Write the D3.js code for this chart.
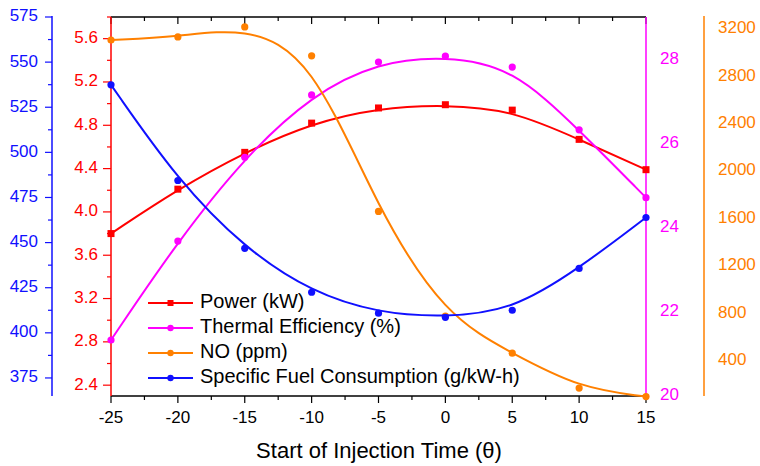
<!DOCTYPE html>
<html><head><meta charset="utf-8">
<script src="https://cdn.jsdelivr.net/npm/d3@7"></script>
<style>body{margin:0;background:#fff}svg{display:block;font-family:Arial,"Liberation Sans",sans-serif}</style>
</head><body><svg id="c" width="760" height="466"></svg>
<script>
const xVals = [-25, -20, -15, -10, -5, 0, 5, 10, 15];
const power = [3.80, 4.21, 4.55, 4.82, 4.96, 4.99, 4.94, 4.67, 4.39];
const thermalEff = [21.33, 23.68, 25.67, 27.15, 27.93, 28.07, 27.81, 26.32, 24.71];
const noPpm = [3106, 3132, 3216, 2972, 1658, 774, 462, 167, 95];
const sfc = [537.4, 484.4, 446.8, 422.5, 410.9, 408.6, 412.5, 435.7, 463.9];
const xTicks = [-25, -20, -15, -10, -5, 0, 5, 10, 15];
const powerTicks = [2.4, 2.8, 3.2, 3.6, 4.0, 4.4, 4.8, 5.2, 5.6];
const effTicks = [20, 22, 24, 26, 28];
const noTicks = [400, 800, 1200, 1600, 2000, 2400, 2800, 3200];
const sfcTicks = [375, 400, 425, 450, 475, 500, 525, 550, 575];

const svg = d3.select("#c");
const L = 111, R = 646, T = 17, B = 396;
const x = d3.scaleLinear().domain([-25, 15]).range([L, R]);
const yP = d3.scaleLinear().domain([2.3, 5.8]).range([B, T]);
const yE = d3.scaleLinear().domain([20, 29]).range([B, T]);
const yN = d3.scaleLinear().domain([100, 3300]).range([B, T]);
const yS = d3.scaleLinear().domain([365, 575]).range([B, T]);

const RED = "#ff0000", MAG = "#ff00ff", ORA = "#ff8000", BLU = "#1010ff";
const TF = 17;

// top axis
svg.append("line").attr("x1", L).attr("x2", R).attr("y1", T).attr("y2", T).attr("stroke", "#000").attr("stroke-width", 1.5);
d3.range(-25, 15.01, 2.5).forEach(v => {
  const major = v % 5 === 0;
  svg.append("line").attr("x1", x(v)).attr("x2", x(v)).attr("y1", T).attr("y2", T + (major ? 7 : 4)).attr("stroke", "#000").attr("stroke-width", 1.2);
});
// bottom axis
svg.append("line").attr("x1", L).attr("x2", R).attr("y1", B).attr("y2", B).attr("stroke", "#000").attr("stroke-width", 1.5);
d3.range(-25, 15.01, 2.5).forEach(v => {
  const major = v % 5 === 0;
  svg.append("line").attr("x1", x(v)).attr("x2", x(v)).attr("y1", B).attr("y2", B + (major ? 7 : 4)).attr("stroke", "#000").attr("stroke-width", 1.2);
});
xTicks.forEach(v => {
  svg.append("text").attr("x", x(v)).attr("y", 419).attr("text-anchor", "middle").attr("dominant-baseline", "middle")
    .attr("font-size", TF).attr("fill", "#000").text(v);
});
svg.append("text").attr("x", 379).attr("y", 452).attr("text-anchor", "middle").attr("dominant-baseline", "middle")
  .attr("font-size", 22).attr("fill", "#000").text("Start of Injection Time (θ)");

// red axis (power)
svg.append("line").attr("x1", L).attr("x2", L).attr("y1", T).attr("y2", B).attr("stroke", RED).attr("stroke-width", 1.5);
d3.range(2.4, 5.81, 0.2).forEach((v, i) => {
  const major = i % 2 === 0;
  svg.append("line").attr("x1", L).attr("x2", L - (major ? 8 : 4)).attr("y1", yP(v)).attr("y2", yP(v)).attr("stroke", RED).attr("stroke-width", 1.2);
});
powerTicks.forEach(v => {
  svg.append("text").attr("x", 98).attr("y", yP(v)).attr("text-anchor", "end").attr("dominant-baseline", "middle")
    .attr("font-size", TF).attr("fill", RED).text(v.toFixed(1));
});

// blue axis (SFC)
const BX = 52;
svg.append("line").attr("x1", BX).attr("x2", BX).attr("y1", T - 1).attr("y2", B).attr("stroke", BLU).attr("stroke-width", 1.5);
d3.range(375, 575.1, 12.5).forEach((v, i) => {
  const major = i % 2 === 0;
  svg.append("line").attr("x1", BX).attr("x2", BX - (major ? 7 : 4)).attr("y1", yS(v)).attr("y2", yS(v)).attr("stroke", BLU).attr("stroke-width", 1.2);
});
sfcTicks.forEach(v => {
  svg.append("text").attr("x", 38).attr("y", yS(v)).attr("text-anchor", "end").attr("dominant-baseline", "middle")
    .attr("font-size", TF).attr("fill", BLU).text(v);
});

// magenta axis (efficiency)
svg.append("line").attr("x1", R).attr("x2", R).attr("y1", T).attr("y2", B).attr("stroke", MAG).attr("stroke-width", 1.5);
effTicks.forEach(v => {
  svg.append("text").attr("x", 660).attr("y", yE(v)).attr("text-anchor", "start").attr("dominant-baseline", "middle")
    .attr("font-size", TF).attr("fill", MAG).text(v);
});

// orange axis (NO)
const OX = 704;
svg.append("line").attr("x1", OX).attr("x2", OX).attr("y1", T - 1).attr("y2", B).attr("stroke", ORA).attr("stroke-width", 1.5);
noTicks.forEach(v => {
  svg.append("text").attr("x", 718).attr("y", yN(v)).attr("text-anchor", "start").attr("dominant-baseline", "middle")
    .attr("font-size", TF).attr("fill", ORA).text(v);
});

// series
const series = [
  {vals: power, y: yP, color: RED, shape: "square"},
  {vals: thermalEff, y: yE, color: MAG, shape: "circle"},
  {vals: noPpm, y: yN, color: ORA, shape: "circle"},
  {vals: sfc, y: yS, color: BLU, shape: "circle"}
];
series.forEach(s => {
  const pts = xVals.map((xv, i) => [x(xv), s.y(s.vals[i])]);
  svg.append("path").attr("d", d3.line().curve(d3.curveBasis)(pts)).attr("fill", "none").attr("stroke", s.color).attr("stroke-width", 2);
  pts.forEach(p => {
    if (s.shape === "square") svg.append("rect").attr("x", p[0] - 3.5).attr("y", p[1] - 3.5).attr("width", 7).attr("height", 7).attr("fill", s.color);
    else svg.append("circle").attr("cx", p[0]).attr("cy", p[1]).attr("r", 3.6).attr("fill", s.color);
  });
});

// legend
const legendNames = ["Power (kW)", "Thermal Efficiency (%)", "NO (ppm)", "Specific Fuel Consumption (g/kW-h)"];
legendNames.forEach((n, i) => {
  const s = series[i];
  const ly = 303 + i * 25;
  svg.append("line").attr("x1", 148).attr("x2", 193).attr("y1", ly).attr("y2", ly).attr("stroke", s.color).attr("stroke-width", 2);
  if (s.shape === "square") svg.append("rect").attr("x", 170.5 - 3).attr("y", ly - 3).attr("width", 6).attr("height", 6).attr("fill", s.color);
  else svg.append("circle").attr("cx", 170.5).attr("cy", ly).attr("r", 3.2).attr("fill", s.color);
  svg.append("text").attr("x", 200).attr("y", ly).attr("dominant-baseline", "middle").attr("font-size", 20).attr("fill", "#000").text(n);
});
</script></body></html>
